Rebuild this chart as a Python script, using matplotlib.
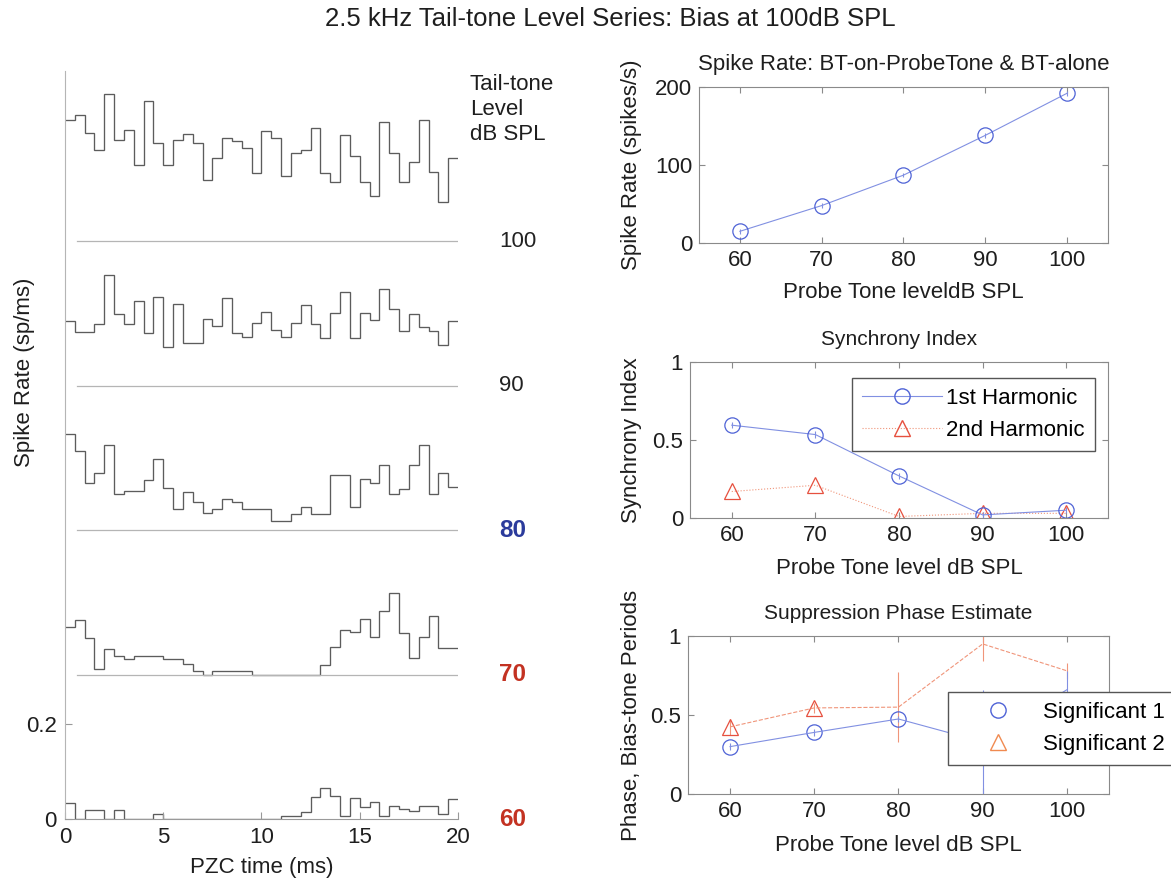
import numpy as np
import matplotlib
matplotlib.use('Agg')
import matplotlib.pyplot as plt
from matplotlib.lines import Line2D

plt.rcParams['font.family'] = ['Liberation Sans', 'DejaVu Sans']
plt.rcParams['font.size'] = 16

# ---- left panel: PZC histograms, 40 bins of 0.5 ms (sp/ms) ----
bin_edges = np.linspace(0, 20, 41)
tail_levels = ['60', '70', '80', '90', '100']
level_colors = ['#c33222', '#c33222', '#2b3b9c', '#222222', '#222222']
level_weights = ['bold', 'bold', 'bold', 'normal', 'normal']
level_sizes = [17.5, 17.5, 17.5, 16, 16]
level_step = 0.304

psth_60 = [0.034, 0, 0.018, 0.018, 0, 0.018, 0, 0, 0, 0.010,
           0, 0, 0, 0, 0, 0, 0, 0, 0, 0,
           0, 0, 0.006, 0.006, 0.014, 0.046, 0.065, 0.049, 0.006, 0.044,
           0.025, 0.036, 0.006, 0.028, 0.021, 0.016, 0.028, 0.028, 0.011, 0.042]
psth_70 = [0.100, 0.114, 0.077, 0.011, 0.055, 0.040, 0.033, 0.039, 0.039, 0.039,
           0.032, 0.032, 0.023, 0.007, 0, 0.008, 0.008, 0.008, 0.008, 0,
           0, 0, 0, 0, 0, 0, 0.020, 0.058, 0.095, 0.089,
           0.117, 0.079, 0.135, 0.171, 0.088, 0.035, 0.079, 0.123, 0.056, 0.056]
psth_80 = [0.202, 0.166, 0.100, 0.121, 0.180, 0.077, 0.083, 0.083, 0.105, 0.149,
           0.090, 0.044, 0.081, 0.060, 0.036, 0.044, 0.065, 0.060, 0.044, 0.044,
           0.044, 0.020, 0.020, 0.035, 0.049, 0.035, 0.035, 0.116, 0.116, 0.049,
           0.107, 0.100, 0.137, 0.077, 0.086, 0.138, 0.180, 0.077, 0.121, 0.091]
psth_90 = [0.137, 0.114, 0.114, 0.130, 0.233, 0.151, 0.130, 0.179, 0.112, 0.187,
           0.082, 0.172, 0.090, 0.090, 0.140, 0.126, 0.186, 0.112, 0.103, 0.132,
           0.156, 0.118, 0.102, 0.132, 0.170, 0.130, 0.100, 0.154, 0.198, 0.100,
           0.154, 0.138, 0.205, 0.161, 0.116, 0.151, 0.125, 0.116, 0.086, 0.137]
psth_100 = [0.256, 0.267, 0.229, 0.192, 0.311, 0.214, 0.235, 0.161, 0.295, 0.207,
            0.161, 0.213, 0.227, 0.207, 0.130, 0.175, 0.218, 0.211, 0.196, 0.144,
            0.232, 0.218, 0.137, 0.186, 0.193, 0.239, 0.144, 0.126, 0.225, 0.179,
            0.126, 0.095, 0.251, 0.186, 0.126, 0.168, 0.256, 0.147, 0.084, 0.175]
psth_all = [psth_60, psth_70, psth_80, psth_90, psth_100]

# ---- right panels ----
probe_levels = [60, 70, 80, 90, 100]
spike_rate = [15, 48, 87, 138, 192]
spike_rate_err = [3, 3, 3, 3, 3]

sync_h1 = [0.595, 0.535, 0.27, 0.02, 0.05]
sync_h1_err = [0.02, 0.02, 0.02, 0.02, 0.02]
sync_h2 = [0.17, 0.21, 0.01, 0.03, 0.03]

phase_1 = [0.30, 0.39, 0.475, 0.33, 0.66]
phase_1_err = [0.02, 0.02, 0.02, 0.33, 0.12]
phase_1_sig = [True, True, True, False, False]
phase_2 = [0.425, 0.545, 0.55, 0.95, 0.78]
phase_2_err = [0.05, 0.03, 0.22, 0.11, 0.05]
phase_2_sig = [True, True, False, False, False]

blue = '#4e62d6'
blue_line = '#8190e2'
red = '#e6503f'
red_line = '#f0957a'
txt = '#1e1e1e'

fig = plt.figure(figsize=(11.71, 8.84), dpi=100)

fig.text(0.521, 1 - 19 / 884, '2.5 kHz Tail-tone Level Series: Bias at 100dB SPL',
         ha='center', va='center', fontsize=18.5, color=txt)

# left panel
axl = fig.add_axes([0.0555, 0.0735, 0.3356, 0.8462])
for i, h in enumerate(psth_all):
    off = i * level_step
    axl.stairs(np.array(h) + off, bin_edges, baseline=None, color='#5c5c5c', lw=0.95)
    if i > 0:
        axl.plot([0.6, 20], [off, off], color='#b5b5b5', lw=0.9)
    axl.text(22.1, off, tail_levels[i], ha='left', va='center', fontsize=level_sizes[i],
             color=level_colors[i], fontweight=level_weights[i], clip_on=False)
axl.set_xlim(0, 20)
axl.set_ylim(0, 1.575)
axl.set_xticks([0, 5, 10, 15, 20])
axl.set_yticks([0, 0.2])
axl.set_yticklabels(['0', '0.2'])
axl.spines['top'].set_visible(False)
axl.spines['right'].set_visible(False)
axl.spines['left'].set_color('#b5b5b5')
axl.spines['bottom'].set_color('#9a9a9a')
axl.tick_params(direction='in', length=5, color='#999999', labelsize=16,
                labelcolor=txt, pad=6)
axl.set_xlabel('PZC time (ms)', fontsize=16, color=txt, labelpad=6)
fig.text(25 / 1171, 1 - 372 / 884, 'Spike Rate (sp/ms)', rotation=90,
         ha='center', va='center', fontsize=16, color=txt)
fig.text(470 / 1171, 1 - 74 / 884, 'Tail-tone\nLevel\ndB SPL', ha='left', va='top',
         fontsize=16, color=txt, linespacing=1.24)


def style_right(ax, title, ylabel, xlabel, lx, ly, tsize=15):
    ax.set_xlim(55, 105)
    ax.set_xticks(probe_levels)
    for s in ax.spines.values():
        s.set_color('#8a8a8a')
        s.set_linewidth(0.8)
    ax.tick_params(direction='in', length=4, color='#8a8a8a', top=True, right=True,
                   labelsize=16, labelcolor=txt, pad=5)
    ax.set_title(title, fontsize=tsize, color=txt, pad=12)
    ax.set_ylabel(ylabel, fontsize=16, color=txt)
    ax.set_xlabel(xlabel, fontsize=16, color=txt)
    ax.yaxis.set_label_coords(lx, 0.5)
    ax.xaxis.set_label_coords(0.5, ly)


leg_kw = dict(fontsize=16, frameon=True, fancybox=False, framealpha=1,
              edgecolor='#555555', borderpad=0.45, handlelength=3.6,
              handletextpad=0.2, labelspacing=0.5, borderaxespad=0)

# spike rate
ax1 = fig.add_axes([0.5969, 0.7251, 0.3493, 0.1765])
ax1.errorbar(probe_levels, spike_rate, yerr=spike_rate_err, color=blue_line, lw=0.8,
             elinewidth=0.8, marker='o', ms=11, mfc='none', mec=blue, mew=0.9)
ax1.set_ylim(0, 200)
ax1.set_yticks([0, 100, 200])
style_right(ax1, 'Spike Rate: BT-on-ProbeTone & BT-alone', 'Spike Rate (spikes/s)',
            'Probe Tone leveldB SPL', -0.139, -0.25, tsize=16)

# synchrony index
ax2 = fig.add_axes([0.5892, 0.4140, 0.3570, 0.1765])
ax2.errorbar(probe_levels, sync_h1, yerr=sync_h1_err, color=blue_line, lw=0.8,
             elinewidth=0.8, marker='o', ms=11, mfc='none', mec=blue, mew=0.9)
ax2.plot(probe_levels, sync_h2, color=red_line, lw=0.8, ls=':', marker='^', ms=12,
         mfc='none', mec=red, mew=0.9)
ax2.set_ylim(0, 1)
ax2.set_yticks([0, 0.5, 1])
ax2.set_yticklabels(['0', '0.5', '1'])
style_right(ax2, 'Synchrony Index', 'Synchrony Index', 'Probe Tone level dB SPL',
            -0.115, -0.256)
h1 = Line2D([], [], color=blue_line, lw=0.8, marker='o', ms=11, mfc='none', mec=blue)
h2 = Line2D([], [], color=red_line, lw=0.8, ls=':', marker='^', ms=12, mfc='none', mec=red)
ax2.legend([h1, h2], ['1st Harmonic', '2nd Harmonic'], loc='upper left',
           bbox_to_anchor=(0.387, 0.897), **leg_kw)

# suppression phase
ax3 = fig.add_axes([0.5875, 0.1018, 0.3595, 0.1787])
ax3.errorbar(probe_levels, phase_2, yerr=phase_2_err, color=red_line, lw=0.8, ls='--',
             elinewidth=0.8, ecolor=red_line)
ax3.errorbar(probe_levels, phase_1, yerr=phase_1_err, color=blue_line, lw=0.8,
             elinewidth=0.8, ecolor=blue_line)
p1x = [x for x, s in zip(probe_levels, phase_1_sig) if s]
p1y = [y for y, s in zip(phase_1, phase_1_sig) if s]
p2x = [x for x, s in zip(probe_levels, phase_2_sig) if s]
p2y = [y for y, s in zip(phase_2, phase_2_sig) if s]
ax3.plot(p1x, p1y, ls='none', marker='o', ms=11, mfc='none', mec=blue, mew=0.9)
ax3.plot(p2x, p2y, ls='none', marker='^', ms=12, mfc='none', mec=red, mew=0.9)
ax3.set_ylim(0, 1)
ax3.set_yticks([0, 0.5, 1])
ax3.set_yticklabels(['0', '0.5', '1'])
style_right(ax3, 'Suppression Phase Estimate', 'Phase, Bias-tone Periods',
            'Probe Tone level dB SPL', -0.109, -0.26)
s1 = Line2D([], [], ls='none', marker='o', ms=11, mfc='none', mec=blue)
s2 = Line2D([], [], ls='none', marker='^', ms=12, mfc='none', mec='#f08a50')
ax3.legend([s1, s2], ['Significant 1', 'Significant 2'], loc='upper left',
           bbox_to_anchor=(0.618, 0.647), **leg_kw)

fig.savefig('out.png', dpi=100)
